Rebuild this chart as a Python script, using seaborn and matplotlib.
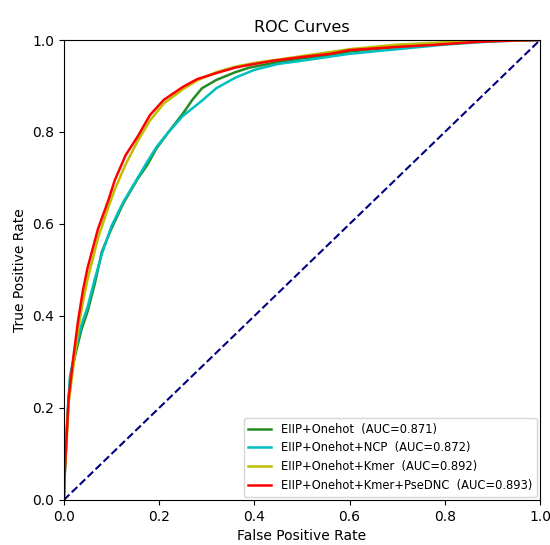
"""ROC curves of the four feature combinations"""
import numpy as np
import matplotlib
matplotlib.use("Agg")
import matplotlib.pyplot as plt
import seaborn as sns
import pandas as pd

# values
fpr_onehot = [0, 0.003, 0.008, 0.013, 0.025, 0.037, 0.05, 0.065, 0.08, 0.1, 0.125, 0.155,
              0.175, 0.195, 0.22, 0.25, 0.27, 0.29, 0.32, 0.36, 0.39, 0.45, 0.5, 0.55,
              0.6, 0.7, 0.8, 0.9, 1.0]
tpr_onehot = [0, 0.08, 0.18, 0.26, 0.32, 0.37, 0.41, 0.47, 0.54, 0.59, 0.645, 0.698,
              0.728, 0.765, 0.80, 0.84, 0.87, 0.895, 0.913, 0.93, 0.94, 0.952, 0.96, 0.965,
              0.975, 0.985, 0.993, 0.998, 1.0]

fpr_ncp = [0, 0.003, 0.008, 0.013, 0.025, 0.037, 0.05, 0.065, 0.08, 0.1, 0.125, 0.155,
           0.175, 0.195, 0.22, 0.25, 0.29, 0.32, 0.36, 0.4, 0.45, 0.5, 0.6, 0.7, 0.8,
           0.9, 1.0]
tpr_ncp = [0, 0.09, 0.19, 0.27, 0.33, 0.38, 0.42, 0.48, 0.535, 0.595, 0.648, 0.70,
           0.735, 0.768, 0.80, 0.835, 0.868, 0.895, 0.918, 0.935, 0.948, 0.955, 0.97,
           0.98, 0.99, 0.997, 1.0]

fpr_kmer = [0, 0.002, 0.005, 0.01, 0.02, 0.03, 0.04, 0.05, 0.072, 0.093, 0.107, 0.13,
            0.155, 0.181, 0.21, 0.25, 0.28, 0.32, 0.36, 0.4, 0.5, 0.6, 0.7, 0.8, 0.9, 1.0]
tpr_kmer = [0, 0.06, 0.11, 0.21, 0.29, 0.37, 0.43, 0.48, 0.57, 0.635, 0.675, 0.73,
            0.78, 0.825, 0.862, 0.893, 0.912, 0.93, 0.942, 0.95, 0.965, 0.98, 0.99,
            0.995, 0.999, 1.0]

fpr_pse = [0, 0.002, 0.004, 0.01, 0.02, 0.03, 0.04, 0.05, 0.072, 0.093, 0.107, 0.13,
           0.155, 0.181, 0.21, 0.25, 0.28, 0.32, 0.36, 0.39, 0.44, 0.5, 0.56, 0.6,
           0.7, 0.77, 0.87, 0.95, 1.0]
tpr_pse = [0, 0.06, 0.10, 0.22, 0.31, 0.39, 0.455, 0.505, 0.59, 0.65, 0.695, 0.75,
           0.79, 0.837, 0.87, 0.898, 0.915, 0.928, 0.94, 0.946, 0.955, 0.963, 0.970,
           0.978, 0.985, 0.989, 0.996, 0.999, 1.0]

labels = ["EIIP+Onehot  (AUC=0.871)",
          "EIIP+Onehot+NCP  (AUC=0.872)",
          "EIIP+Onehot+Kmer  (AUC=0.892)",
          "EIIP+Onehot+Kmer+PseDNC  (AUC=0.893)"]
colors = ["forestgreen", "c", "y", "r"]

curves = [(fpr_onehot, tpr_onehot), (fpr_ncp, tpr_ncp),
          (fpr_kmer, tpr_kmer), (fpr_pse, tpr_pse)]

fig = plt.figure(figsize=(5.5, 5.45), dpi=100)
ax = fig.add_axes([0.116, 0.0826, 0.866, 0.844])

for (f, t), lab, col in zip(curves, labels, colors):
    df = pd.DataFrame({"fpr": f, "tpr": t})
    sns.lineplot(x="fpr", y="tpr", data=df, color=col, lw=1.8, label=lab,
                 sort=False, estimator=None, ax=ax)

ax.plot([0, 1], [0, 1], color="navy", lw=1.5, linestyle="--")
ax.set_xlim(0.0, 1.0)
ax.set_ylim(0.0, 1.0)
ax.set_xlabel("False Positive Rate", fontsize=10)
ax.set_ylabel("True Positive Rate", fontsize=10)
ax.set_title("ROC Curves", fontsize=11.5)
ax.tick_params(labelsize=10)
ax.legend(loc="lower right", fontsize=8.3, borderaxespad=0.3)

fig.savefig("out.png", dpi=100)
